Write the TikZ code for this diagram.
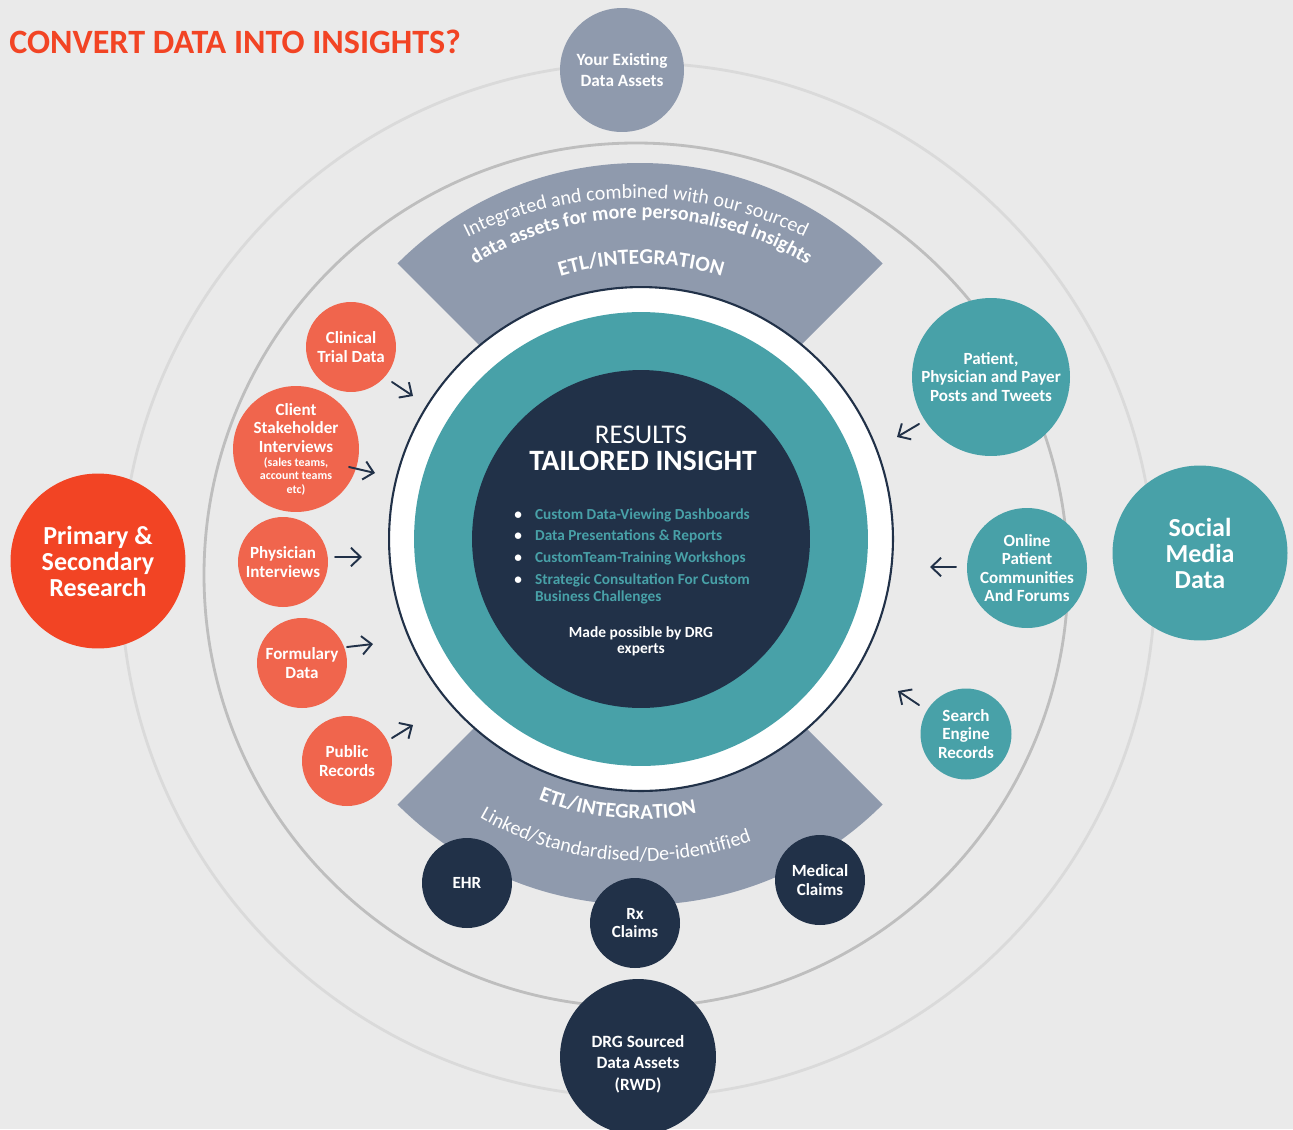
\documentclass[tikz,border=0pt]{standalone}
\usepackage{fontspec}
\setmainfont{Carlito}
\usetikzlibrary{arrows.meta,decorations.text}
\definecolor{paper}{RGB}{234,234,234}
\definecolor{orbitIn}{RGB}{190,190,190}
\definecolor{orbitOut}{RGB}{218,218,218}
\definecolor{slate}{RGB}{143,154,173}
\definecolor{navy}{RGB}{33,49,72}
\definecolor{sea}{RGB}{72,161,168}
\definecolor{coral}{RGB}{240,101,77}
\definecolor{flame}{RGB}{242,68,36}
\tikzset{blob/.style={circle,inner sep=0pt,align=center,text=white,font=\bfseries\fontsize{9.7}{10.5}\selectfont},
 coralblob/.style={blob,fill=coral,minimum size=1.8cm},
 seablob/.style={blob,fill=sea},
 navyblob/.style={blob,fill=navy,minimum size=1.8cm},
 bigblob/.style={blob,minimum size=3.5cm,font=\bfseries\fontsize{14.8}{14.8}\selectfont},
 feed/.style={draw=navy,line width=1.1pt,-{Straight Barb[length=5.5pt,width=10.5pt]}},
 orbit/.style={line width=1.6pt},
 bandtext/.style={decorate,decoration={text along path,text align=center,text color=white,text={#1}}},
 every picture/.style={line join=round,line cap=round}}
\begin{document}
\begin{tikzpicture}[x=0.02cm,y=0.02cm]
\useasboundingbox (0,0) rectangle (1293,-1129);
\fill[paper] (0,0) rectangle (1293,-1129);
\node[anchor=base west,inner sep=0pt,text=flame,font=\bfseries\fontsize{19.4}{20}\selectfont] (title) at (9,-53) {CONVERT DATA INTO INSIGHTS?};
% orbits
\draw[orbit,draw=orbitOut] (638,-580) circle[radius=517];
\draw[orbit,draw=orbitIn] (636,-575) circle[radius=432];
% ETL bands
\coordinate (topfan) at (640,-506);
\coordinate (lowfan) at (640,-562);
\coordinate (flatarc) at (636,-579);
\fill[slate] (topfan) -- ([shift={(45:343)}]topfan) arc[start angle=45,end angle=135,radius=343] -- cycle;
\fill[slate] (lowfan) -- ([shift={(225:343)}]lowfan) arc[start angle=225,end angle=315,radius=343] -- cycle;
% hub
\node[circle,fill=white,draw=navy,line width=1.2pt,minimum size=10.08cm] (hub) at (641,-539) {};
\node[circle,fill=sea,minimum size=9.08cm] (hubsea) at (hub) {};
\node[circle,fill=navy,minimum size=6.76cm] (hubcore) at (hub) {};
\path[bandtext={|\fontsize{11.4}{13}\selectfont|Integrated and combined with our sourced}] ([shift={(140:381)}]flatarc) arc[start angle=140,end angle=40,radius=381];
\path[bandtext={|\bfseries\fontsize{11.4}{13}\selectfont|data assets for more personalised insights}] ([shift={(150:321)}]hub) arc[start angle=150,end angle=30,radius=321];
\path[bandtext={|\bfseries\fontsize{12.2}{13}\selectfont|ETL/INTEGRATION}] ([shift={(150:275)}]hub) arc[start angle=150,end angle=30,radius=275];
\path[bandtext={|\bfseries\fontsize{12}{13}\selectfont|ETL/INTEGRATION}] ([shift={(200:280)}]hub) arc[start angle=200,end angle=330,radius=280];
\path[bandtext={|\fontsize{11.4}{13}\selectfont|Linked/Standardised/De-identified}] ([shift={(200:322)}]hub) arc[start angle=200,end angle=330,radius=322];
\node[anchor=base,text=white,font=\fontsize{15.4}{16}\selectfont] (results) at (641,-443) {RESULTS};
\node[anchor=base,text=white,font=\bfseries\fontsize{16.8}{17}\selectfont] (tailored) at (643,-470) {TAILORED INSIGHT};
\node[anchor=base west,inner sep=0pt,text=sea,font=\bfseries\fontsize{8.7}{12.4}\selectfont] (offers) at (514,-519)
 {\begin{tabular}[t]{@{}l@{\hspace{7.5pt}}l@{}}
 \textcolor{white}{\textbullet} & Custom Data-Viewing Dashboards\\
 \textcolor{white}{\textbullet} & Data Presentations \& Reports\\
 \textcolor{white}{\textbullet} & CustomTeam-Training Workshops\\
 \textcolor{white}{\textbullet} & Strategic Consultation For Custom\\[-2.7pt]
 & Business Challenges
 \end{tabular}};
\node[align=center,text=white,font=\bfseries\fontsize{8.8}{9.1}\selectfont] (experts) at (641,-641) {Made possible by DRG\\experts};
% sources
\node[blob,fill=slate,minimum size=2.48cm,font=\bfseries\fontsize{9.8}{12.5}\selectfont] (existing) at (622,-70) {Your Existing\\Data Assets};
\node[bigblob,fill=flame] (research) at (98,-561) {Primary \&\\Secondary\\Research};
\node[bigblob,fill=sea] (social) at (1200,-553) {Social\\Media\\Data};
\node[blob,fill=navy,minimum size=3.12cm] (drg) at (638,-1057) {};
\node[blob,font=\bfseries\fontsize{9.8}{12.2}\selectfont] (drgtext) at (638,-1064) {DRG Sourced\\Data Assets\\(RWD)};
\node[coralblob] (clinical) at (351,-347) {Clinical\\Trial Data};
\node[coralblob,minimum size=2.52cm] (client) at (296,-449) {Client\\Stakeholder\\Interviews\\[-2pt]{\fontsize{6.8}{7}\selectfont(sales teams,}\\[-3.1pt]{\fontsize{6.8}{7}\selectfont account teams}\\[-3.1pt]{\fontsize{6.8}{7}\selectfont etc)}};
\node[coralblob] (physician) at (283,-562) {Physician\\Interviews};
\node[coralblob] (formulary) at (302,-663) {Formulary\\Data};
\node[coralblob] (public) at (347,-761) {Public\\Records};
\node[seablob,minimum size=3.16cm] (posts) at (991,-377) {Patient,\\Physician and Payer\\Posts and Tweets};
\node[seablob,minimum size=2.4cm] (forums) at (1027,-568) {Online\\Patient\\Communities\\And Forums};
\node[seablob,minimum size=1.82cm] (search) at (966,-734) {Search\\Engine\\Records};
\node[navyblob] (ehr) at (467,-883) {EHR};
\node[navyblob] (rx) at (635,-923) {Rx\\Claims};
\node[navyblob] (medical) at (820,-880) {Medical\\Claims};
% feeds into the hub
\coordinate (clinical-out) at (392,-382); \coordinate (clinical-in) at (413,-396);
\coordinate (client-out) at (349,-467); \coordinate (client-in) at (375,-473);
\coordinate (physician-out) at (335,-557); \coordinate (physician-in) at (362,-557);
\coordinate (formulary-out) at (347,-647); \coordinate (formulary-in) at (373,-644);
\coordinate (public-out) at (392,-738); \coordinate (public-in) at (413,-725);
\coordinate (posts-out) at (919,-424); \coordinate (posts-in) at (897,-437);
\coordinate (forums-out) at (956,-567); \coordinate (forums-in) at (930,-567);
\coordinate (search-out) at (919,-705); \coordinate (search-in) at (898,-691);
\draw[feed] (clinical-out) -- (clinical-in);
\draw[feed] (client-out) -- (client-in);
\draw[feed] (physician-out) -- (physician-in);
\draw[feed] (formulary-out) -- (formulary-in);
\draw[feed] (public-out) -- (public-in);
\draw[feed] (posts-out) -- (posts-in);
\draw[feed] (forums-out) -- (forums-in);
\draw[feed] (search-out) -- (search-in);
\end{tikzpicture}
\end{document}
